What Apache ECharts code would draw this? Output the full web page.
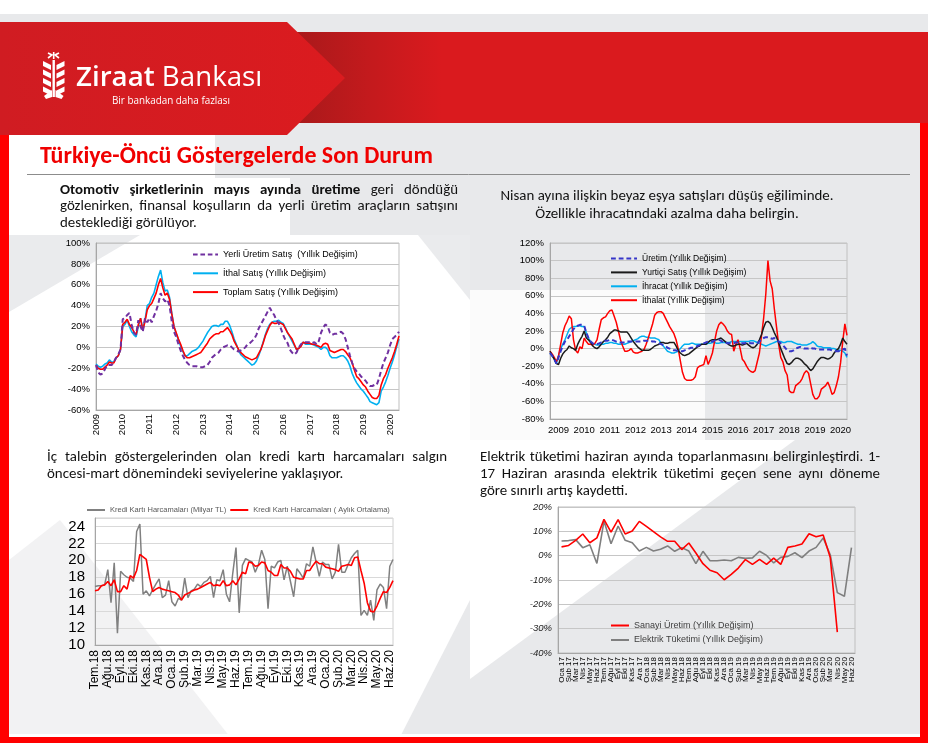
<!DOCTYPE html>
<html><head><meta charset="utf-8">
<script src="https://cdn.jsdelivr.net/npm/echarts@6/dist/echarts.min.js"></script>
<style>html,body{margin:0;padding:0;background:#fff}#c{width:928px;height:743px}</style>
</head><body><div id="c"></div>
<script>
// ---------------- DATA ----------------
// Chart 1: Otomotiv (monthly, Jan 2009 - May 2020)
const c1Start = [2009, 1];
const c1Yerli = [
 -17,-24,-26,-25,-21,-17,-17,-17,-14,-10,-7,-2,
 27,28,31,33,22,14,12,26,20,15,28,24,
 28,24,30,35,42,52,47,44,46,40,25,15,
 10,3,-3,-8,-12,-15,-17,-18,-18,-18,-19,-19,
 -19,-18,-17,-14,-10,-8,-6,-5,-2,0,1,2,
 2,0,-2,-3,-4,-3,-2,0,3,4,6,8,
 12,18,22,26,30,34,38,34,31,26,23,18,
 12,7,4,-2,-5,-7,-5,0,3,5,5,5,
 5,4,5,3,6,14,19,22,20,14,12,13,
 13,14,15,13,8,0,-8,-15,-20,-23,-25,-28,
 -30,-32,-35,-37,-37,-36,-36,-30,-22,-15,-10,-5,
 2,8,10,12,15];
const c1Ithal = [
 -16,-18,-19,-18,-16,-15,-12,-14,-14,-10,-8,-2,
 20,22,26,20,15,12,10,20,28,18,26,40,
 42,48,52,60,68,74,62,54,55,48,33,20,
 13,7,1,-4,-8,-8,-6,-4,-3,-2,0,3,
 6,10,14,17,20,21,21,20,22,22,25,25,
 21,15,8,3,-3,-7,-9,-11,-13,-15,-17,-16,
 -13,-8,-2,5,12,18,22,24,25,25,26,24,
 23,19,14,10,6,2,-2,-1,2,5,3,3,
 3,3,2,1,0,-2,0,0,-2,-8,-10,-10,
 -10,-9,-8,-8,-10,-13,-18,-25,-30,-34,-37,-40,
 -42,-45,-48,-52,-53,-54,-55,-53,-42,-38,-33,-27,
 -20,-14,-7,1,8];
const c1Toplam = [
 -17,-20,-21,-21,-19,-17,-14,-15,-15,-10,-8,-2,
 22,24,27,22,19,15,12,22,28,16,25,36,
 40,42,47,52,60,66,57,50,52,46,32,20,
 14,8,3,-3,-8,-10,-10,-9,-8,-7,-6,-5,
 -2,1,4,8,10,12,13,13,15,15,17,19,
 16,12,6,2,-2,-5,-7,-9,-10,-11,-12,-11,
 -10,-6,-2,4,11,16,21,24,23,23,24,23,
 22,18,14,11,8,3,-2,-1,1,5,4,4,
 4,3,3,2,1,0,3,4,3,-3,-4,-5,
 -4,-3,-2,-2,-4,-7,-10,-15,-22,-28,-30,-33,
 -36,-38,-42,-45,-48,-49,-49,-46,-36,-30,-26,-20,
 -15,-10,-4,3,11];

// Chart 2: Beyaz eşya (monthly, Sep 2008 - Apr 2020)
const c2Start = [2008, 9];
const c2Uretim = [
 -5,-8,-12,-17,
 -10,-3,3,8,10,14,18,22,25,26,27,27,
 26,18,12,8,6,5,5,6,7,8,9,9,
 10,10,9,8,7,7,7,7,8,8,8,8,
 8,8,8,8,9,9,9,9,8,8,7,6,
 5,4,3,1,0,-1,-2,-2,-3,-3,-3,-2,
 -1,0,1,1,2,3,4,5,6,7,8,8,
 8,9,10,10,9,7,7,6,6,6,6,7,
 7,6,6,6,7,7,6,6,6,6,8,10,
 12,13,13,12,11,12,10,8,6,4,1,-2,
 -3,-3,-2,0,1,2,1,0,0,0,1,0,
 0,-1,-1,-1,-1,-1,-1,-1,-2,-2,-3,-3,
 -2,-1,0,-8];
const c2Yurtici = [
 -3,-8,-12,-17,
 -18,-11,-6,-3,-1,3,1,0,-2,5,10,14,
 20,12,10,7,3,1,0,2,5,8,10,13,
 17,19,21,21,20,19,19,19,19,16,12,8,
 5,2,0,-2,-2,-2,-2,-1,1,3,4,5,
 7,7,6,6,7,7,7,3,-2,-5,-7,-8,
 -7,-6,-4,-2,0,2,3,5,5,5,7,9,
 10,10,10,11,12,10,8,6,4,3,3,4,
 5,5,4,5,6,4,2,1,2,5,10,16,
 24,30,31,29,24,18,13,7,0,-6,-12,-17,
 -18,-16,-13,-11,-11,-12,-14,-17,-19,-22,-25,-23,
 -19,-15,-12,-10,-10,-11,-12,-11,-9,-5,-2,0,
 5,12,8,5];
const c2Ihracat = [
 -5,-8,-12,-17,
 -8,0,5,10,16,22,24,25,25,26,26,25,
 25,18,12,8,6,5,4,4,5,5,6,6,
 7,7,6,6,5,5,5,5,6,7,8,9,
 10,11,13,14,14,13,13,12,12,12,11,10,
 6,3,0,-3,-4,-5,-5,-4,-3,0,3,5,
 5,5,6,6,5,5,5,5,5,5,6,6,
 7,7,6,6,7,7,7,7,7,8,8,8,
 8,8,8,8,8,8,9,9,8,7,6,5,
 4,3,4,5,6,7,8,8,8,7,7,8,
 8,8,7,6,5,5,4,4,4,5,6,8,
 6,3,2,2,1,1,1,1,0,0,-1,-2,
 -2,-3,-5,-10];
const c2Ithalat = [
 -3,-6,-10,-15,
 -8,5,18,26,31,37,34,10,-2,-5,2,0,
 12,8,5,5,4,6,10,22,33,35,36,40,
 43,44,37,30,20,10,3,-3,-3,-2,0,-4,
 -5,-5,-4,-3,-1,5,12,20,28,38,41,42,
 42,40,35,30,25,21,17,10,0,-14,-27,-34,
 -36,-36,-36,-35,-32,-22,-20,-19,-18,-8,-18,-12,
 -5,8,20,27,30,28,25,20,17,16,-3,5,
 10,0,-12,-15,-20,-24,-26,-27,-25,-15,-5,15,
 35,62,100,77,68,45,25,5,-10,-15,-25,-30,
 -48,-50,-50,-42,-40,-38,-34,-28,-25,-28,-40,-52,
 -57,-57,-54,-46,-44,-42,-38,-44,-52,-50,-42,-32,
 -16,8,28,15];

// Chart 3: Kredi kartı (weekly, 4 points per month, Tem.18 - Haz.20)
const c3MonthLabels = ['Tem.18','Ağu.18','Eyl.18','Eki.18','Kas.18','Ara.18','Oca.19','Şub.19','Mar.19','Nis.19','May.19','Haz.19','Tem.19','Ağu.19','Eyl.19','Eki.19','Kas.19','Ara.19','Oca.20','Şub.20','Mar.20','Nis.20','May.20','Haz.20'];
const c3Harcama = [
 16.9,17.0,17.0,17.1, 18.9,15.0,19.7,11.4, 18.7,18.3,18.0,17.9, 17.5,23.4,24.3,16.0,
 16.4,15.8,16.5,17.2, 17.8,15.6,15.9,17.6, 15.1,14.6,15.5,15.3, 17.9,15.6,16.4,16.6,
 17.2,16.9,17.4,17.6, 18.1,15.6,17.7,17.6, 18.9,16.0,15.1,18.5, 21.5,13.8,19.4,20.2,
 20.0,19.8,18.6,19.5, 21.2,20.1,14.3,19.3, 19.1,19.8,20.0,17.7, 19.3,17.5,15.7,19.0,
 18.5,17.9,19.6,19.3, 21.6,19.8,18.1,19.8, 19.5,19.5,17.8,18.6, 21.9,18.6,18.6,19.5,
 20.3,20.8,21.2,13.5, 14.1,13.5,15.3,12.9, 16.5,17.2,16.8,14.3, 19.3,20.1];
const c3Ortalama = [
 16.4,16.5,17.0,17.1, 17.5,17.0,17.7,16.3, 16.3,17.0,16.6,18.2, 17.9,18.8,20.7,20.4,
 20.1,18.0,16.3,16.6, 16.8,16.6,16.5,16.4, 16.3,16.2,15.9,15.3, 15.9,16.1,16.3,16.5,
 16.6,16.8,17.0,17.2, 17.4,17.0,17.1,17.0, 17.6,17.0,17.1,17.6, 17.1,17.8,18.6,18.4,
 19.8,19.7,19.3,19.4, 19.8,19.7,18.8,18.6, 18.2,18.2,19.5,19.1, 19.1,18.7,18.0,17.9,
 17.8,17.8,18.8,18.8, 19.4,19.9,19.6,19.6, 19.2,19.1,19.0,18.9, 18.7,19.3,19.4,19.5,
 19.4,20.3,20.4,18.8, 17.3,15.0,14.0,13.9, 14.6,15.5,16.3,16.2, 16.8,17.6];

// Chart 4: Sanayi üretimi & elektrik (monthly, Oca 17 - Haz 20)
const c4Months = ['Oca 17','Şub 17','Mar 17','Nis 17','May 17','Haz 17','Tem 17','Ağu 17','Eyl 17','Eki 17','Kas 17','Ara 17',
 'Oca 18','Şub 18','Mar 18','Nis 18','May 18','Haz 18','Tem 18','Ağu 18','Eyl 18','Eki 18','Kas 18','Ara 18',
 'Oca 19','Şub 19','Mar 19','Nis 19','May 19','Haz 19','Tem 19','Ağu 19','Eyl 19','Eki 19','Kas 19','Ara 19',
 'Oca 20','Şub 20','Mar 20','Nis 20','May 20','Haz 20'];
const c4Sanayi = [3.6,4.2,6.3,8.9,5.3,7.3,14.9,9.7,14.8,8.9,10.1,14.1,12.0,9.9,7.7,5.9,5.9,2.5,5.2,1.1,-3.3,-6.0,-7.0,-9.9,-7.7,-5.1,-1.6,-3.6,-1.5,-3.6,-1.0,-3.6,3.4,4.0,4.8,9.0,7.8,8.5,-0.8,-31.4,null,null];
const c4Elektrik = [6.0,6.2,6.6,3.3,4.5,-3.2,14.2,4.9,12.2,6.3,5.3,1.9,3.4,1.9,2.6,4.0,1.8,3.3,1.9,-3.3,1.8,-2.1,-2.1,-1.8,-2.1,-0.7,-1.1,-0.9,1.8,0.1,-3.0,-0.7,-0.3,1.2,-0.8,1.9,3.4,7.3,0.4,-15.2,-16.7,3.3];

// ---------------- HELPERS ----------------
function monthsFrom(start, n){ const out=[]; let y=start[0], m=start[1]; for(let i=0;i<n;i++){ out.push(y+'-'+(m<10?'0':'')+m); m++; if(m>12){m=1;y++;} } return out; }
const c1Cats = monthsFrom(c1Start, c1Toplam.length);
const c2Cats = monthsFrom(c2Start, c2Ithalat.length);
const c3Cats = c3Harcama.map((_, i) => 'w' + i);

const AX = '"Liberation Sans", Arial, sans-serif';
const BODY = 'Carlito, Lato, "Open Sans", sans-serif';
const cv = document.createElement('canvas').getContext('2d');
function tw(t, size, weight, fam){ cv.font = (weight||'normal') + ' ' + size + 'px ' + fam; return cv.measureText(t).width; }
function fit(t, w, weight, fam){ return 10 * w / tw(t, 10, weight, fam); }

const G = [];
function txt(t, x, y, size, color, weight, fam, align){
  G.push({type:'text', x:x, y:y, z:5, style:{text:t, fill:color, fontSize:size, fontWeight:weight||'normal', fontFamily:fam||BODY, textAlign:align||'left', textVerticalAlign:'middle'}});
}
function justify(line, x0, x1, y, size, color, boldN){
  const words = line.split(' ');
  const ws = words.map((w,i)=>tw(w, size, i<boldN?'bold':'normal', BODY));
  const tot = ws.reduce((a,b)=>a+b,0);
  const gap = (x1-x0-tot)/(words.length-1);
  let x = x0;
  words.forEach((w,i)=>{ txt(w, x, y, size, color, i<boldN?'bold':'normal'); x += ws[i]+gap; });
}

// ---------------- BACKGROUND ----------------
const poly = (pts, fill, z) => G.push({type:'polygon', z:z||-10, shape:{points:pts}, style:{fill:fill}});
G.push({type:'rect', z:-12, shape:{x:0,y:0,width:928,height:743}, style:{fill:'#ffffff'}});
G.push({type:'rect', z:-11, shape:{x:0,y:14,width:928,height:729}, style:{fill:'#e8e9eb'}});
poly([[9,135],[215,135],[215,178],[290,178],[290,235],[470,235],[470,440],[9,440]], '#ffffff');
poly([[9,235],[140,235],[9,312]], '#eaebed');
poly([[418,235],[470,235],[470,300]], '#eaebed');
poly([[470,290],[705,290],[705,440],[470,440]], '#fbfbfb');
poly([[9,440],[470,440],[470,600],[400,737],[9,737]], '#ffffff');
poly([[9,560],[60,520],[230,737],[9,737]], '#f2f2f3');
poly([[470,440],[795,440],[470,679]], '#ffffff');
// header
G.push({type:'rect', z:-9, shape:{x:280,y:32,width:648,height:91}, style:{fill:new echarts.graphic.LinearGradient(0,0,1,0,[{offset:0,color:'#a3191a'},{offset:0.14,color:'#c41a1d'},{offset:0.25,color:'#da1a1e'},{offset:1,color:'#da1a1e'}])}});
G.push({type:'polygon', z:-8, shape:{points:[[0,22],[287,22],[345,78],[287,135],[0,135]]}, style:{fill:new echarts.graphic.LinearGradient(0,0,1,0,[{offset:0,color:'#d01c22'},{offset:1,color:'#db1b1f'}])}});
// frame
G.push({type:'rect', z:-7, shape:{x:0,y:135,width:9,height:608}, style:{fill:'#ff0000'}});
G.push({type:'rect', z:-7, shape:{x:920,y:123,width:8,height:620}, style:{fill:'#ff0000'}});
G.push({type:'rect', z:-7, shape:{x:0,y:737,width:928,height:6}, style:{fill:'#ff0000'}});
G.push({type:'rect', z:-7, shape:{x:9,y:734,width:911,height:3}, style:{fill:'#ffffff'}});
// wheat logo
const W = '#ffffff';
G.push({type:'rect', z:-6, shape:{x:52.5,y:60,width:2.4,height:37}, style:{fill:W}});
for (let k=0;k<4;k++){
  const y = 61 + k*8.5;
  poly([[43,y],[51,y+4],[51,y+9],[43,y+5]], W, -6);
  poly([[64.5,y],[56.5,y+4],[56.5,y+9],[64.5,y+5]], W, -6);
}
poly([[44,96],[52,90],[52,97],[46,99]], W, -6);
poly([[63.5,96],[55.5,90],[55.5,97],[61.5,99]], W, -6);
G.push({type:'polyline', z:-6, shape:{points:[[48,53],[52,55],[48,58]]}, style:{stroke:W, lineWidth:1.6, fill:null}});
G.push({type:'polyline', z:-6, shape:{points:[[59,53],[55,55],[59,58]]}, style:{stroke:W, lineWidth:1.6, fill:null}});
G.push({type:'polyline', z:-6, shape:{points:[[53.7,52],[53.7,59]]}, style:{stroke:W, lineWidth:1.6, fill:null}});
const logoFam = '"Open Sans", Lato, sans-serif';
const zs = fit('Ziraat Bankası', 191, '600', logoFam);
const zw = tw('Ziraat ', zs, '600', logoFam);
txt('Ziraat', 76, 78, zs, '#ffffff', '600', logoFam);
txt('Bankası', 76 + zw, 78, zs, '#ffffff', 'normal', logoFam);
txt('Bir bankadan daha fazlası', 112, 101, fit('Bir bankadan daha fazlası', 118, 'normal', logoFam), '#ffffff', 'normal', logoFam);
// title
const ttl = 'Türkiye-Öncü Göstergelerde Son Durum';
txt(ttl, 40, 157, fit(ttl, 393, 'bold', BODY), '#f00000', 'bold');
G.push({type:'line', z:1, shape:{x1:27,y1:174.5,x2:910,y2:174.5}, style:{stroke:'#8c8c8c', lineWidth:1}});

// body texts
const BS = fit('desteklediği görülüyor.', 137, 'normal', BODY);
const TC = '#111111';
justify('Otomotiv şirketlerinin mayıs ayında üretime geri döndüğü', 60, 458, 190, BS, TC, 5);
justify('gözlenirken, finansal koşulların da yerli üretim araçların satışını', 60, 458, 206.5, BS, TC, 0);
txt('desteklediği görülüyor.', 60, 223, BS, TC);
txt('Nisan ayına ilişkin beyaz eşya satışları düşüş eğiliminde.', 667, 196, BS, TC, 'normal', BODY, 'center');
txt('Özellikle ihracatındaki azalma daha belirgin.', 667, 214, BS, TC, 'normal', BODY, 'center');
justify('İç talebin göstergelerinden olan kredi kartı harcamaları salgın', 47, 447, 457, BS, TC, 0);
txt('öncesi-mart dönemindeki seviyelerine yaklaşıyor.', 47, 474, BS, TC);
justify('Elektrik tüketimi haziran ayında toparlanmasını belirginleştirdi. 1-', 480, 880, 457, BS, TC, 0);
justify('17 Haziran arasında elektrik tüketimi geçen sene aynı döneme', 480, 880, 474, BS, TC, 0);
txt('göre sınırlı artış kaydetti.', 480, 491, BS, TC);

// ---------------- CHART ----------------
const N1 = ['Yerli Üretim Satış  (Yıllık Değişim)', 'İthal Satış (Yıllık Değişim)', 'Toplam Satış (Yıllık Değişim)'];
const N2 = ['Üretim (Yıllık Değişim)', 'Yurtiçi Satış (Yıllık Değişim)', 'İhracat (Yıllık Değişim)', 'İthalat (Yıllık Değişim)'];
const N3 = ['Kredi Kartı Harcamaları (Milyar TL)', 'Kredi Kartı Harcamaları ( Aylık Ortalama)'];
const N4 = ['Sanayi Üretim (Yıllık Değişim)', 'Elektrik Tüketimi (Yıllık Değişim)'];
const DASH = 'path://M0,0h5v2h-5zM8,0h5v2h-5zM16,0h5v2h-5zM24,0h3v2h-3z';
const legItems = (names, dashedIdx) => names.map((n,i)=>({name:n, icon: i===dashedIdx ? DASH : 'rect'}));

function yAx(gi, min, max, iv, fmt, lab){
  return {gridIndex:gi, type:'value', min:min, max:max, interval:iv,
    axisLine:{show:true, lineStyle:{color:'#a6a6a6'}}, axisTick:{show:false},
    axisLabel:Object.assign({formatter:fmt, color:'#000', fontFamily:AX, fontSize:9.5, margin:6}, lab||{}),
    splitLine:{lineStyle:{color:'#c6c6c6', width:1}}};
}
function ln(name, xi, data, color, w, dashed, z){
  return {name:name, type:'line', xAxisIndex:xi, yAxisIndex:xi, data:data, symbol:'none', z:z||2,
    lineStyle:{color:color, width:w, type:dashed?[5,3]:'solid'}, itemStyle:{color:color}, silent:true};
}
const legBase = {selectedMode:false, orient:'vertical', itemHeight:2};

const option = {
  animation:false,
  graphic:G,
  grid:[
    {left:96, top:243, width:303, height:167, show:true, borderColor:'#bfbfbf', borderWidth:1, backgroundColor:'transparent'},
    {left:550, top:243, width:297, height:176, show:true, borderColor:'#c0c0c0', borderWidth:1, backgroundColor:'transparent'},
    {left:95, top:518, width:298, height:127, show:true, borderColor:'#d0d0d0', borderWidth:1, backgroundColor:'transparent'},
    {left:558, top:507, width:297, height:146, show:true, borderColor:'#bfbfbf', borderWidth:1, backgroundColor:'transparent'}
  ],
  xAxis:[
    {gridIndex:0, type:'category', data:c1Cats, boundaryGap:false,
     axisLine:{onZero:false, lineStyle:{color:'#a6a6a6'}}, axisTick:{show:false},
     axisLabel:{interval:11, rotate:90, fontSize:9.5, color:'#000', fontFamily:AX, margin:4, formatter:v=>v.slice(0,4)}},
    {gridIndex:1, type:'category', data:c2Cats, boundaryGap:false,
     axisLine:{onZero:false, lineStyle:{color:'#a6a6a6'}}, axisTick:{show:false},
     axisLabel:{interval:(i,v)=>v.slice(5)==='01', fontSize:9.5, color:'#000', fontFamily:AX, margin:6, formatter:v=>v.slice(0,4)}},
    {gridIndex:2, type:'category', data:c3Cats, boundaryGap:false,
     axisLine:{onZero:false, lineStyle:{color:'#a6a6a6'}}, axisTick:{show:false},
     axisLabel:{interval:3, rotate:90, fontSize:12, color:'#000', fontFamily:AX, margin:5, formatter:(v,i)=>c3MonthLabels[i/4]||''}},
    {gridIndex:3, type:'category', data:c4Months, boundaryGap:true,
     axisLine:{onZero:false, lineStyle:{color:'#a6a6a6'}}, axisTick:{show:false},
     axisLabel:{interval:0, rotate:90, fontSize:8, color:'#000', fontFamily:AX, margin:4}}
  ],
  yAxis:[
    yAx(0, -60, 100, 20, '{value}%'),
    yAx(1, -80, 120, 20, '{value}%'),
    Object.assign(yAx(2, 10, 25, 2, '{value}', {fontSize:15, margin:10, showMaxLabel:false}), {splitLine:{lineStyle:{color:'#d9d9d9'}}}),
    yAx(3, -40, 20, 10, '{value}%', {fontStyle:'italic', fontSize:9.5, color:'#222'})
  ],
  legend:[
    Object.assign({}, legBase, {left:188, top:245, itemWidth:25, itemGap:9.8, data:legItems(N1,0), textStyle:{fontFamily:AX, color:'#000', fontSize:9}}),
    Object.assign({}, legBase, {left:606, top:249, itemWidth:26, itemGap:4.9, data:legItems(N2,0), textStyle:{fontFamily:AX, color:'#000', fontSize:8.5}}),
    Object.assign({}, legBase, {orient:'horizontal', left:82, top:501, itemWidth:18, itemGap:4, data:legItems(N3,-1), textStyle:{fontFamily:AX, color:'#595959', fontSize:7.5}}),
    Object.assign({}, legBase, {left:606, top:616, itemWidth:18, itemGap:5.5, data:legItems(N4,-1), textStyle:{fontFamily:AX, color:'#404040', fontSize:9}})
  ],
  series:[
    ln(N1[0], 0, c1Yerli, '#7030a0', 2, true, 3),
    ln(N1[1], 0, c1Ithal, '#00b0f0', 1.6, false, 2),
    ln(N1[2], 0, c1Toplam, '#ff0000', 1.6, false, 2),
    ln(N2[0], 1, c2Uretim, '#3535c8', 2, true, 4),
    ln(N2[1], 1, c2Yurtici, '#1a1a1a', 1.5, false, 3),
    ln(N2[2], 1, c2Ihracat, '#00b0f0', 1.5, false, 2),
    ln(N2[3], 1, c2Ithalat, '#ff0000', 1.5, false, 2),
    ln(N3[0], 2, c3Harcama, '#808080', 1.5, false, 2),
    ln(N3[1], 2, c3Ortalama, '#ff0000', 1.6, false, 3),
    ln(N4[0], 3, c4Sanayi, '#ff0000', 1.6, false, 3),
    ln(N4[1], 3, c4Elektrik, '#7f7f7f', 1.6, false, 2)
  ]
};
const chart = echarts.init(document.getElementById('c'), null, {renderer:'canvas'});
chart.setOption(option);
</script>
</body></html>
